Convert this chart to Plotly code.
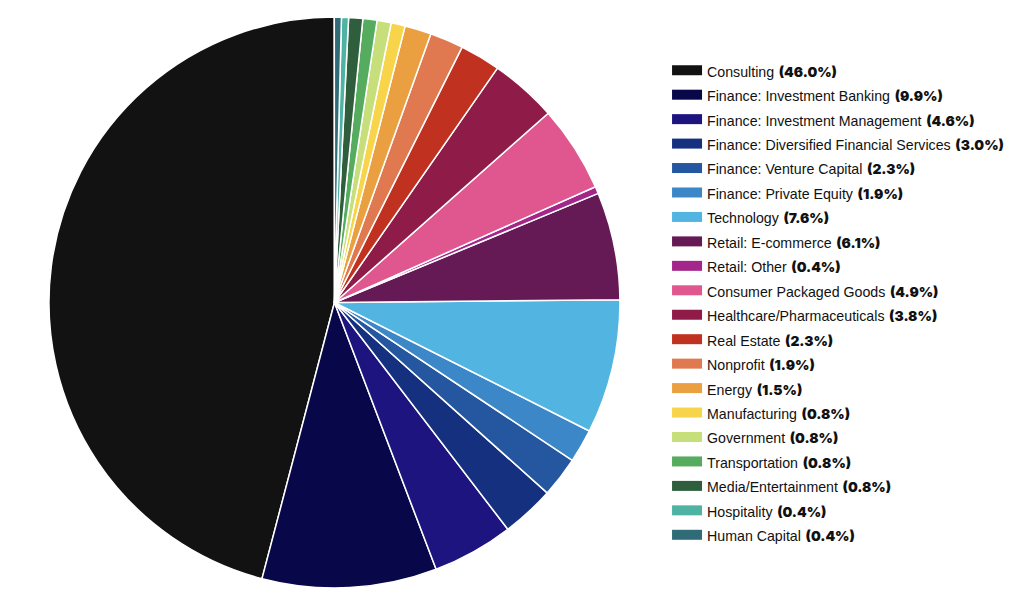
import plotly.graph_objects as go

industries = [
    "Consulting", "Finance: Investment Banking", "Finance: Investment Management",
    "Finance: Diversified Financial Services", "Finance: Venture Capital",
    "Finance: Private Equity", "Technology", "Retail: E-commerce", "Retail: Other",
    "Consumer Packaged Goods", "Healthcare/Pharmaceuticals", "Real Estate",
    "Nonprofit", "Energy", "Manufacturing", "Government", "Transportation",
    "Media/Entertainment", "Hospitality", "Human Capital",
]
shares = [46.0, 9.9, 4.6, 3.0, 2.3, 1.9, 7.6, 6.1, 0.4, 4.9,
          3.8, 2.3, 1.9, 1.5, 0.8, 0.8, 0.8, 0.8, 0.4, 0.4]
colors = [
    "#121212", "#07074a", "#1d1480", "#15307f", "#2556a0", "#3c87c8", "#52b4e0",
    "#661a55", "#a3278a", "#e0568e", "#8e1b48", "#c0311f", "#e07850", "#eaa040",
    "#f8d44a", "#c6df7a", "#55ab5e", "#2e5e3c", "#4fb3a4", "#2f6c78",
]

# bigger legend font gives the row spacing, the spans set the visible text
legend_labels = [
    f'<span style="font-size:14.2px;font-family:Liberation Sans">{n}</span> '
    f'<span style="font-size:13.8px;font-weight:900">({v:.1f}%)</span>'
    for n, v in zip(industries, shares)
]

fig = go.Figure(go.Pie(
    labels=industries,
    values=shares,
    marker=dict(colors=colors, line=dict(color="white", width=1.5)),
    sort=False,
    direction="counterclockwise",
    rotation=194.7,
    textinfo="none",
    hoverinfo="label+percent",
    showlegend=False,
    domain=dict(x=[0.040, 0.5976], y=[0.0569, 0.9853]),
))

# empty line traces only to get wide rectangular legend swatches
for lab, c in zip(legend_labels, colors):
    fig.add_trace(go.Scatter(x=[None], y=[None], mode="lines", name=lab,
                             line=dict(color=c, width=16), hoverinfo="skip"))

fig.update_xaxes(visible=False)
fig.update_yaxes(visible=False)

fig.update_layout(
    width=1024, height=615,
    margin=dict(l=0, r=0, t=0, b=0),
    paper_bgcolor="white",
    plot_bgcolor="white",
    font=dict(family="Inter", color="#111111"),
    showlegend=True,
    legend=dict(
        x=0.6436, y=0.9268, xanchor="left", yanchor="top",
        font=dict(size=16.5, family="Inter", color="#111111"),
        bgcolor="rgba(0,0,0,0)",
        traceorder="normal",
    ),
)

fig.write_html("out.html")
